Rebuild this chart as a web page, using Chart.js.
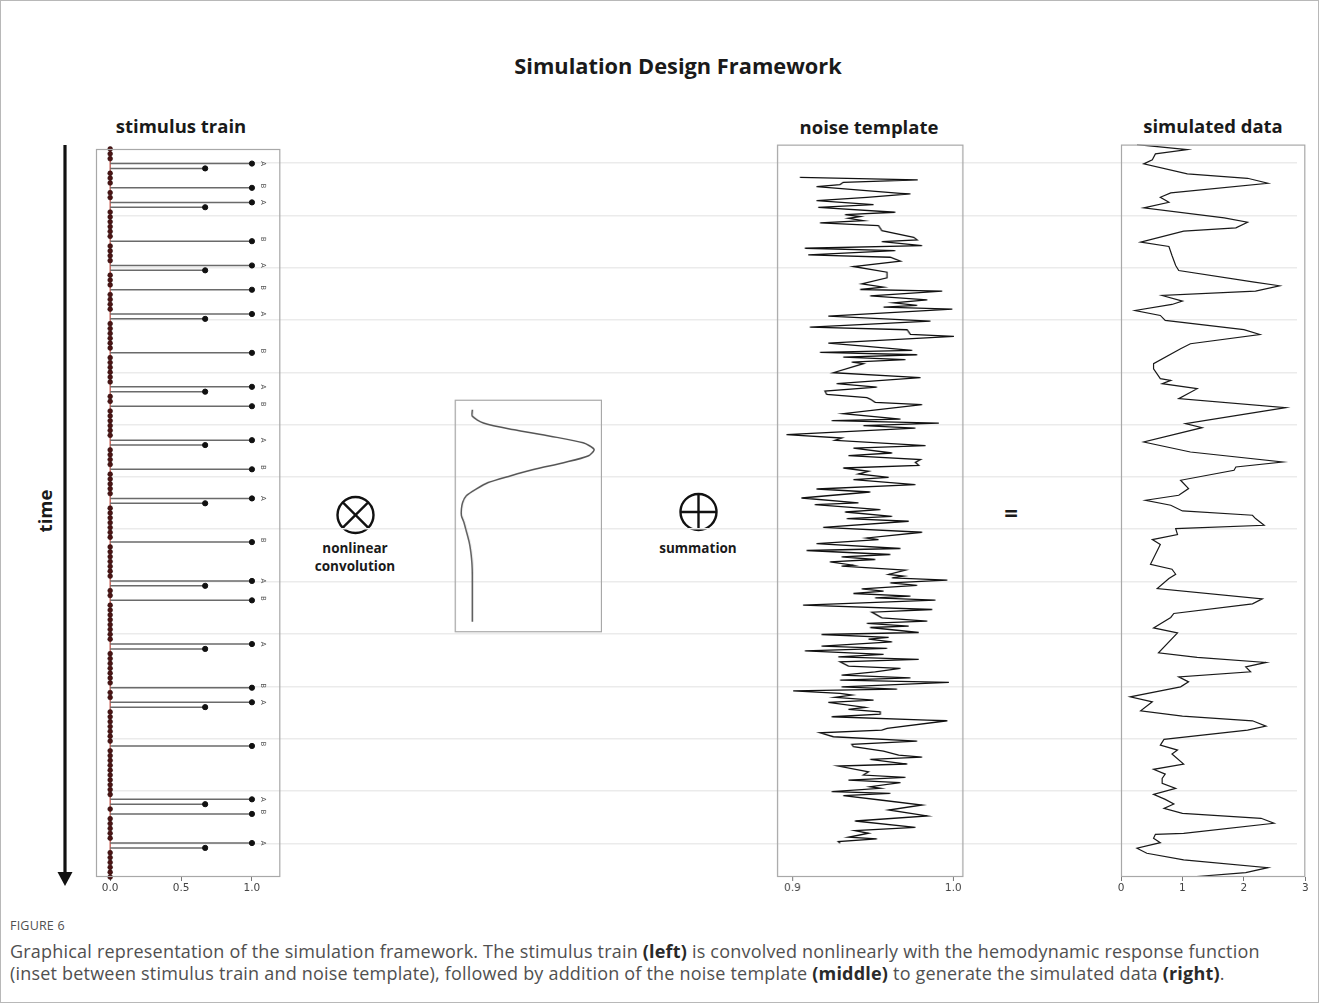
<!DOCTYPE html>
<html>
<head>
<meta charset="utf-8">
<title>Simulation Design Framework</title>
<script src="https://cdn.jsdelivr.net/npm/chart.js@4.4.1/dist/chart.umd.min.js"></script>
<style>
  html, body { margin: 0; padding: 0; background: #fff; }
  #page { position: relative; width: 1320px; height: 1008px; overflow: hidden;
          font-family: "Open Sans", "Noto Sans", sans-serif; color: #1a1a1a; }
  .frame { position: absolute; left: 0; top: 0; width: 1317px; height: 1001px; border: 1px solid #b8b8b8; }
  .panel { position: absolute; }
  .txt { position: absolute; white-space: nowrap; transform: translate(-50%, -50%); font-weight: 700; }
  .cap { position: absolute; left: 10px; white-space: nowrap; color: #505050; }
  .cap b { color: #2a2a2a; }
  svg { position: absolute; left: 0; top: 0; overflow: visible; }
</style>
</head>
<body>
<div id="page">
  <div class="frame"></div>

  <div class="txt" style="left:678px; top:65px; font-size:21.8px;">Simulation Design Framework</div>
  <div class="txt" style="left:181px; top:125px; font-size:18.5px;">stimulus train</div>
  <div class="txt" style="left:869px; top:126px; font-size:18.5px;">noise template</div>
  <div class="txt" style="left:1213px; top:125px; font-size:18.5px;">simulated data</div>
  <div class="txt" style="left:44px; top:511px; font-size:18.5px; transform:translate(-50%,-50%) rotate(-90deg);">time</div>

  <div class="txt" style="left:355px; top:548px; font-size:13.5px;">nonlinear</div>
  <div class="txt" style="left:355px; top:566px; font-size:13.5px;">convolution</div>
  <div class="txt" style="left:698px; top:548px; font-size:13.5px;">summation</div>
  <div class="txt" style="left:1011px; top:512px; font-size:24px;">=</div>

  <svg width="1320" height="1008">
    <!-- time arrow -->
    <line x1="65" y1="145" x2="65" y2="874" stroke="#111" stroke-width="3.2"/>
    <polygon points="57.5,872 72.5,872 65,886" fill="#111"/>
    <!-- convolution symbol -->
    <circle cx="355.5" cy="515" r="18" fill="none" stroke="#111" stroke-width="2.4"/>
    <line x1="342.8" y1="502.3" x2="368.2" y2="527.7" stroke="#111" stroke-width="2.4"/>
    <line x1="368.2" y1="502.3" x2="342.8" y2="527.7" stroke="#111" stroke-width="2.4"/>
    <!-- summation symbol -->
    <circle cx="698.5" cy="512" r="18" fill="none" stroke="#111" stroke-width="2.4"/>
    <line x1="680.5" y1="512" x2="716.5" y2="512" stroke="#111" stroke-width="2.4"/>
    <line x1="698.5" y1="494" x2="698.5" y2="530" stroke="#111" stroke-width="2.4"/>
  </svg>

  <div class="panel" style="left:110px; top:144px; width:1187px; height:733px;"><canvas id="gridBg"></canvas></div>
  <div class="panel" style="left:83.7px; top:144px; width:208.3px; height:759px;"><canvas id="stimChart"></canvas></div>
  <div class="panel" style="left:454px; top:399.3px; width:147.7px; height:234px;"><canvas id="hrfChart"></canvas></div>
  <div class="panel" style="left:765.3px; top:144px; width:209.4px; height:759px;"><canvas id="noiseChart"></canvas></div>
  <div class="panel" style="left:1108.7px; top:144px; width:208.3px; height:759px;"><canvas id="simChart"></canvas></div>

  <div class="cap" style="top:917px; font-size:12.5px; letter-spacing:0.2px;">FIGURE 6</div>
  <div class="cap" style="top:939px; font-size:18px; letter-spacing:0.2px;">Graphical representation of the simulation framework. The stimulus train <b>(left)</b> is convolved nonlinearly with the hemodynamic response function</div>
  <div class="cap" style="top:961px; font-size:18px; letter-spacing:0.2px;">(inset between stimulus train and noise template), followed by addition of the noise template <b>(middle)</b> to generate the simulated data <b>(right)</b>.</div>
</div>

<script>
// ---- data ----
const timeMax = 150;                      // last sample of the time axis
const gridTimes = [3.9, 14.6, 25.3, 36.0, 46.7, 57.4, 68.1, 78.8, 89.6, 100.3, 111.0, 121.7, 132.4, 143.1];

// stimulus train: onset samples of the two conditions
const onsetsA = [3, 11, 24, 34, 49, 60, 72, 89, 102, 114, 134, 143];
const onsetsB = [8, 19, 29, 42, 53, 66, 81, 93, 111, 123, 137];
const ampA = [1.0, 0.67];   // onset sample, next sample
const ampB = [1.0];
const stimTicks = [0, 0.5, 1.0];

// hemodynamic response (inset), one value per time step
const hrfValues = [0, 0, 0.09, 0.33, 0.64, 0.91, 1.0, 0.95, 0.75, 0.51, 0.31, 0.13, 0.03, -0.05,
  -0.08, -0.09, -0.09, -0.07, -0.055, -0.04, -0.026, -0.016, -0.009, -0.004, -0.001,
  0, 0, 0, 0, 0, 0, 0, 0];

// noise template
const noiseT = [
  6.69, 7.22, 7.71, 8.18, 8.59, 9.96, 10.09, 10.78, 11.46, 12.28,
  12.83, 13.85, 14.32, 14.73, 15.08, 15.55, 16.02, 16.57, 17.60, 18.97,
  19.50, 19.85, 20.67, 21.22, 21.69, 22.57, 23.06, 23.88, 24.96, 26.13,
  27.27, 28.50, 29.20, 29.67, 30.02, 30.96, 31.78, 32.39, 32.94, 33.29,
  33.70, 35.13, 36.16, 37.38, 37.91, 38.88, 39.28, 40.66, 41.33, 42.15,
  42.56, 43.03, 43.52, 44.05, 44.54, 44.87, 46.71, 47.73, 48.96, 49.66,
  50.48, 51.15, 51.83, 52.11, 52.79, 53.26, 55.10, 56.20, 56.53, 57.02,
  57.56, 58.05, 59.40, 60.09, 60.56, 61.65, 62.14, 63.16, 63.70, 64.51,
  65.07, 65.68, 66.23, 66.91, 67.46, 68.13, 68.61, 69.63, 70.53, 71.14,
  72.37, 73.39, 73.72, 74.74, 75.24, 76.12, 76.59, 77.14, 78.37, 79.39,
  80.56, 80.88, 81.70, 82.72, 83.13, 83.95, 84.44, 84.97, 85.46, 86.14,
  86.34, 87.16, 88.04, 88.39, 88.74, 89.21, 89.76, 90.29, 90.99, 91.46,
  91.93, 92.48, 92.83, 93.30, 94.32, 95.21, 95.76, 96.92, 97.60, 98.07,
  98.61, 98.90, 99.92, 100.33, 100.94, 101.29, 101.84, 102.72, 103.19, 103.68,
  104.41, 104.91, 105.44, 105.93, 106.81, 107.28, 107.98, 108.65, 109.20, 109.67,
  110.14, 111.04, 111.51, 111.86, 112.40, 112.74, 113.21, 113.76, 114.23, 115.26,
  115.67, 116.16, 116.63, 117.18, 117.86, 118.00, 119.56, 119.90, 120.46, 121.27,
  122.15, 122.83, 123.32, 124.20, 125.02, 125.43, 125.90, 126.86, 127.27, 128.44,
  129.12, 129.59, 130.14, 130.69, 131.51, 131.84, 132.53, 132.86, 133.35, 134.23,
  135.25, 136.28, 137.50, 138.53, 139.82, 140.51, 141.04, 141.86, 142.21, 142.76,
  143.09];
const noiseV = [
  0.9046, 0.9779, 0.9316, 0.9296, 0.9150, 0.9671, 0.9733, 0.9463, 0.9150, 0.9504,
  0.9160, 0.9639, 0.9327, 0.9421, 0.9348, 0.9441, 0.9171, 0.9535, 0.9556, 0.9754,
  0.9775, 0.9556, 0.9806, 0.9077, 0.9639, 0.9098, 0.9608, 0.9671, 0.9379, 0.9588,
  0.9588, 0.9431, 0.9566, 0.9421, 0.9931, 0.9483, 0.9838, 0.9629, 0.9775, 0.9566,
  0.9994, 0.9223, 0.9858, 0.9108, 0.9713, 0.9733, 1.0004, 0.9223, 0.9463, 0.9744,
  0.9171, 0.9775, 0.9316, 0.9702, 0.9369, 0.9441, 0.9254, 0.9796, 0.9275, 0.9525,
  0.9202, 0.9213, 0.9463, 0.9483, 0.9514, 0.9806, 0.9316, 0.9671, 0.9244, 0.9910,
  0.9441, 0.9764, 0.8963, 0.9306, 0.9264, 0.9827, 0.9379, 0.9619, 0.9348, 0.9796,
  0.9764, 0.9785, 0.9316, 0.9473, 0.9410, 0.9598, 0.9379, 0.9764, 0.9150, 0.9483,
  0.9056, 0.9410, 0.9139, 0.9546, 0.9327, 0.9619, 0.9338, 0.9723, 0.9191, 0.9806,
  0.9463, 0.9535, 0.9150, 0.9671, 0.9088, 0.9608, 0.9306, 0.9514, 0.9233, 0.9379,
  0.9306, 0.9702, 0.9598, 0.9691, 0.9619, 0.9963, 0.9608, 0.9775, 0.9431, 0.9566,
  0.9379, 0.9733, 0.9514, 0.9889, 0.9066, 0.9869, 0.9494, 0.9556, 0.9838, 0.9463,
  0.9723, 0.9483, 0.9785, 0.9181, 0.9598, 0.9473, 0.9619, 0.9181, 0.9588, 0.9077,
  0.9566, 0.9285, 0.9785, 0.9296, 0.9348, 0.9671, 0.9514, 0.9306, 0.9733, 0.9296,
  0.9973, 0.9306, 0.9650, 0.9004, 0.9296, 0.9369, 0.9264, 0.9504, 0.9223, 0.9452,
  0.9348, 0.9546, 0.9546, 0.9244, 0.9838, 0.9963, 0.9588, 0.9556, 0.9171, 0.9254,
  0.9775, 0.9369, 0.9379, 0.9566, 0.9660, 0.9806, 0.9483, 0.9713, 0.9285, 0.9473,
  0.9441, 0.9702, 0.9348, 0.9671, 0.9483, 0.9546, 0.9244, 0.9608, 0.9316, 0.9546,
  0.9806, 0.9598, 0.9838, 0.9389, 0.9764, 0.9389, 0.9473, 0.9348, 0.9525, 0.9285,
  0.9296];
const noiseTicks = [0.9, 1.0];

// simulated data
const simT = [
  0, 1.02, 1.9, 3.13, 3.95, 6.0, 6.9, 7.92, 9.88, 10.78,
  11.81, 12.95, 15.0, 15.9, 17.04, 17.74, 19.99, 20.87, 22.71, 24.76,
  25.78, 28.17, 28.91, 30.02, 30.9, 32.06, 32.74, 33.97, 34.99, 36.0,
  37.9, 38.9, 40.78, 41.8, 44.87, 45.9, 47.94, 48.29, 48.97, 49.99,
  52.03, 53.88, 57.15, 57.97, 60.91, 62.96, 65.0, 66.03, 66.71, 68.75,
  70.45, 71.82, 72.84, 73.87, 75.03, 75.91, 76.59, 77.96, 78.64, 79.87,
  80.89, 81.91, 85.94, 86.97, 87.99, 88.87, 90.92, 93.04, 94.06, 96.03,
  96.85, 98.98, 100.0, 104.09, 105.03, 106.06, 106.96, 107.98, 109.01, 110.03,
  111.05, 113.1, 114.12, 115.96, 117.05, 118.01, 119.1, 119.91, 121.81, 122.98,
  124.0, 124.82, 126.87, 127.95, 128.92, 129.8, 130.82, 131.85, 133.07, 134.1,
  135.05, 135.94, 136.96, 137.98, 139.0, 141.05, 141.25, 142.07, 142.97, 144.12,
  145.14, 146.51, 148.09, 149.11, 150.05];
const simV = [
  0.26, 1.08, 0.56, 0.51, 0.37, 1.08, 2.06, 2.39, 0.81, 0.64,
  0.78, 0.37, 1.68, 2.06, 1.87, 1.02, 0.32, 0.78, 0.83, 0.89,
  0.94, 2.17, 2.58, 2.19, 0.67, 1.0, 0.83, 0.23, 0.64, 0.72,
  2.0, 2.26, 1.13, 0.97, 0.53, 0.53, 0.64, 0.81, 0.67, 1.24,
  0.94, 2.68, 1.05, 1.32, 0.37, 1.13, 2.63, 1.87, 1.84, 0.97,
  1.10, 0.94, 0.40, 0.81, 1.0, 2.14, 2.19, 2.33, 0.89, 0.92,
  0.51, 0.64, 0.48, 0.83, 0.89, 0.78, 0.59, 2.30, 2.14, 0.86,
  0.81, 0.53, 0.92, 0.61, 1.24, 2.36, 2.03, 2.11, 0.94, 1.10,
  0.97, 0.15, 0.51, 0.32, 1.0, 2.14, 2.36, 2.06, 0.70, 0.64,
  0.92, 0.83, 1.02, 0.53, 0.72, 0.67, 0.67, 0.89, 0.53, 0.72,
  0.86, 0.70, 1.0, 2.28, 2.49, 1.02, 0.56, 0.53, 0.64, 0.26,
  0.42, 1.02, 2.39, 2.03, 1.08];
const simTicks = [0, 1, 2, 3];

// ---- build the stimulus series from the onset lists ----
const stimValues = new Array(timeMax + 1).fill(0);
const stimLabelRows = [];
onsetsA.forEach(t => { ampA.forEach((a, k) => { stimValues[t + k] = a; }); stimLabelRows.push({ t: t, text: 'A' }); });
onsetsB.forEach(t => { ampB.forEach((a, k) => { stimValues[t + k] = a; }); stimLabelRows.push({ t: t, text: 'B' }); });

// ---- shared settings ----
Chart.defaults.font.family = '"DejaVu Sans", sans-serif';
Chart.defaults.animation = false;
Chart.defaults.plugins.legend.display = false;
Chart.defaults.plugins.tooltip.enabled = false;

const PAD = 12;      // room for edge tick labels
const AXIS_H = 26;   // height of the bottom axis strip

// spine around each panel
const boxBorder = {
  id: 'boxBorder',
  afterDraw(chart) {
    const a = chart.chartArea, ctx = chart.ctx;
    ctx.save();
    ctx.strokeStyle = '#a8a8a8';
    ctx.lineWidth = 1.2;
    ctx.strokeRect(a.left + 0.5, a.top + 0.5, a.width - 1, a.height - 1);
    ctx.restore();
  }
};

// rotated A / B markers next to the stimulus train
const stimLabels = {
  id: 'stimLabels',
  afterDatasetsDraw(chart) {
    const ctx = chart.ctx, xs = chart.scales.x, ys = chart.scales.y;
    ctx.save();
    ctx.fillStyle = '#555';
    ctx.font = '7px "DejaVu Sans", sans-serif';
    ctx.textAlign = 'center';
    ctx.textBaseline = 'middle';
    stimLabelRows.forEach(r => {
      ctx.save();
      ctx.translate(xs.getPixelForValue(1.075), ys.getPixelForValue(r.t) - (r.text === 'B' ? 2 : 0));
      ctx.rotate(Math.PI / 2);
      ctx.fillText(r.text, 0, 0);
      ctx.restore();
    });
    ctx.restore();
  }
};

function bottomAxis(min, max, ticks, fmt) {
  return {
    type: 'linear', min: min, max: max,
    afterBuildTicks: s => { s.ticks = ticks.map(v => ({ value: v })); },
    afterFit: s => { s.height = AXIS_H; },
    ticks: { autoSkip: false, maxRotation: 0, padding: 1, color: '#444',
             font: { size: 10.5 }, callback: fmt },
    grid: { drawOnChartArea: false, drawTicks: true, tickLength: 4, color: '#777', lineWidth: 1 },
    border: { display: false }
  };
}

function timeAxis(min, max) {
  return { type: 'linear', min: min, max: max, reverse: true, display: false };
}

function panel(id, datasets, xAxis, yAxis, extraPlugins, padding) {
  return new Chart(document.getElementById(id), {
    type: 'scatter',
    data: { datasets: datasets },
    options: {
      responsive: true,
      maintainAspectRatio: false,
      layout: { padding: padding },
      scales: { x: xAxis, y: yAxis }
    },
    plugins: [boxBorder].concat(extraPlugins || [])
  });
}

// ---- background grid lines shared across the figure ----
new Chart(document.getElementById('gridBg'), {
  type: 'scatter',
  data: { datasets: [] },
  options: {
    responsive: true, maintainAspectRatio: false,
    layout: { padding: 0 },
    scales: {
      x: { display: false, min: 0, max: 1 },
      y: {
        min: 0, max: timeMax, reverse: true,
        afterBuildTicks: s => { s.ticks = gridTimes.map(v => ({ value: v })); },
        afterFit: s => { s.width = 0; },
        ticks: { display: false },
        grid: { color: '#ebebeb', lineWidth: 1.4, drawTicks: false },
        border: { display: false }
      }
    }
  }
});

// ---- stimulus train ----
const stimDatasets = [];
stimDatasets.push({
  data: [{ x: 0, y: 0 }, { x: 0, y: timeMax }],
  showLine: true, borderColor: '#c0483c', borderWidth: 1.2, pointRadius: 0, order: 5, clip: false
});
stimValues.forEach((v, t) => {
  if (v > 0) {
    stimDatasets.push({
      data: [{ x: 0, y: t }, { x: v, y: t }],
      showLine: true, borderColor: '#6a6a6a', borderWidth: 1.5, pointRadius: 0, order: 4
    });
  }
});
stimDatasets.push({
  data: stimValues.map((v, t) => ({ x: v, y: t })).filter(p => p.x === 0),
  pointRadius: 2.4, pointBackgroundColor: '#4d1414', pointBorderColor: '#2a0a0a',
  pointBorderWidth: 0.6, order: 2, clip: false
});
stimDatasets.push({
  data: stimValues.map((v, t) => ({ x: v, y: t })).filter(p => p.x > 0),
  pointRadius: 2.6, pointBackgroundColor: '#111', pointBorderColor: '#111', order: 1, clip: false
});
panel('stimChart', stimDatasets,
  bottomAxis(-0.1, 1.2, stimTicks, v => v.toFixed(1)),
  timeAxis(0, timeMax), [stimLabels],
  { left: PAD, right: PAD, top: 0, bottom: 0 });

// ---- HRF inset ----
panel('hrfChart', [{
    data: hrfValues.map((v, t) => ({ x: v, y: t })),
    showLine: true, borderColor: '#555', borderWidth: 1.5, pointRadius: 0, tension: 0.25
  }],
  { type: 'linear', min: -0.145, max: 1.065, display: false },
  timeAxis(-1.5, 33.6), [], 0);

// ---- noise template ----
panel('noiseChart', [{
    data: noiseT.map((t, i) => ({ x: noiseV[i], y: t })),
    showLine: true, borderColor: '#111', borderWidth: 1.3, pointRadius: 0
  }],
  bottomAxis(0.8904, 1.0063, noiseTicks, v => v.toFixed(1)),
  timeAxis(0, timeMax), [],
  { left: PAD, right: PAD, top: 0, bottom: 0 });

// ---- simulated data ----
panel('simChart', [{
    data: simT.map((t, i) => ({ x: simV[i], y: t })),
    showLine: true, borderColor: '#1a1a1a', borderWidth: 1.2, pointRadius: 0
  }],
  bottomAxis(0, 3, simTicks, v => String(v)),
  timeAxis(0, timeMax), [],
  { left: PAD, right: PAD, top: 0, bottom: 0 });
</script>
</body>
</html>
